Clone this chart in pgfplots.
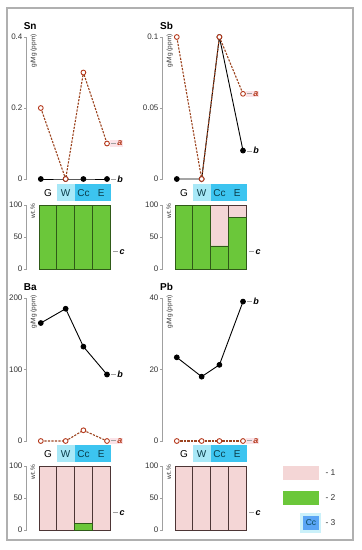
\documentclass[border=0pt]{standalone}
\usepackage{fontspec}
\setmainfont{Liberation Sans}
\usepackage{pgfplots}
\pgfplotsset{compat=1.18}
\definecolor{pinkf}{HTML}{F4D6D6}
\definecolor{pinkb}{HTML}{4D3535}
\definecolor{greenf}{HTML}{6BC73A}
\definecolor{greenb}{HTML}{2F5A18}
\definecolor{wcyan}{HTML}{A8E8F7}
\definecolor{ccyan}{HTML}{3CC4F0}
\definecolor{labtxt}{HTML}{0B3D4A}
\definecolor{redline}{HTML}{9C4420}
\definecolor{redmark}{HTML}{B5391C}
\definecolor{axgray}{HTML}{A0A0A0}
\definecolor{framec}{HTML}{B0B0B0}
\definecolor{tickc}{HTML}{333333}
\definecolor{apink}{HTML}{FBE3E8}
\definecolor{legblue}{HTML}{5AA5F5}
\definecolor{legtxt}{HTML}{064A5C}

\pgfplotsset{
  panel/.style={scale only axis, axis y line=left, axis x line=none,
    axis line style={draw=axgray, line width=0.7pt, -},
    tick align=outside, major tick length=2.5pt,
    ytick style={draw=axgray, line width=0.7pt},
    xmin=-1.2, xmax=3.8, width=88.75pt, clip=false,
    scaled y ticks=false,
    yticklabel style={font=\fontsize{8}{8}\selectfont, text=tickc, inner xsep=1.5pt},
    /pgf/number format/assume math mode=true, anchor=south west},
  barpanel/.style={panel, height=64pt, ymin=0, ymax=100, ytick={0,50,100}, yticklabels={0,50,100}},
  serb/.style={black, line width=0.9pt, mark=*, mark size=2.4pt, mark options={solid, fill=black}},
  sera/.style={redline, line width=1.1pt, dash pattern=on 2.2pt off 1.3pt, mark=*, mark size=2.4pt,
    mark options={solid, draw=redmark, fill=white, line width=0.9pt}},
  gbar/.style={ybar, bar shift=0pt, bar width=1, fill=greenf, draw=greenb, line width=0.8pt},
  pbar/.style={ybar, bar shift=0pt, bar width=1, fill=pinkf, draw=pinkb, line width=0.8pt},
}
\tikzset{
  laba/.style={anchor=west, xshift=2.8pt, inner sep=0.8pt, fill=apink, text=redmark, font=\fontsize{9}{9}\selectfont\bfseries\itshape},
  labb/.style={anchor=west, xshift=2.8pt, inner sep=0.8pt, text=black, font=\fontsize{9}{9}\selectfont\bfseries\itshape},
  ptitle/.style={anchor=base, font=\fontsize{10}{10}\selectfont\bfseries},
  ylab/.style={rotate=90, anchor=north east, inner sep=0pt, font=\fontsize{6.5}{6.5}\selectfont, text=tickc},
  catlab/.style={font=\fontsize{10}{10}\selectfont, text=labtxt},
}
\newcommand{\dsh}{\textcolor{axgray}{\rule[2.7pt]{5pt}{0.6pt}}\,}

\newcommand{\catrow}{%
  \fill[wcyan] ([yshift=4pt]axis cs:0.5,100) rectangle ([yshift=21pt]axis cs:1.5,100);
  \fill[ccyan] ([yshift=4pt]axis cs:1.5,100) rectangle ([yshift=21pt,xshift=1pt]axis cs:3.5,100);
  \node[catlab, text=black] at ([yshift=12pt]axis cs:0,100) {G};
  \node[catlab] at ([yshift=12pt]axis cs:1,100) {W};
  \node[catlab] at ([yshift=12pt]axis cs:2,100) {Cc};
  \node[catlab] at ([yshift=12pt]axis cs:3,100) {E};
  \node[anchor=west, xshift=2.5pt, inner sep=0.5pt, font=\fontsize{9}{9}\selectfont\bfseries\itshape] at (axis cs:3.5,26.5) {\dsh c};
  \node[ylab] at ([xshift=3.8pt,yshift=1pt]rel axis cs:0,1) {wt.\%};
}

\begin{document}
\begin{tikzpicture}
\draw[framec, line width=1.3pt] (7pt,-8pt) rectangle (353pt,-540pt);

% ---------- Sn ----------
\begin{axis}[panel, at={(26.6pt,-179pt)}, height=142pt, ymin=0, ymax=0.4,
  ytick={0,0.2,0.4}, yticklabels={0,0.2,0.4}]
\addplot[serb] coordinates {(-0.4,0) (1,0) (2,0) (3.33,0)};
\addplot[sera] coordinates {(-0.4,0.2) (1,0) (2,0.3) (3.33,0.1)};
\node[laba] at (axis cs:3.33,0.1) {\dsh a};
\node[labb] at (axis cs:3.33,0) {\dsh b};
\node[ptitle] at ([xshift=3.6pt,yshift=8pt]rel axis cs:0,1) {Sn};
\node[ylab] at ([xshift=3.8pt,yshift=3pt]rel axis cs:0,1) {g/Mg (ppm)};
\end{axis}
\begin{axis}[barpanel, at={(26.6pt,-269pt)}]
\addplot[gbar] coordinates {(0,100) (1,100) (2,100) (3,100)};
\catrow
\end{axis}

% ---------- Sb ----------
\begin{axis}[panel, at={(162.6pt,-179pt)}, height=142pt, ymin=0, ymax=0.1,
  ytick={0,0.05,0.1}, yticklabels={0,0.05,0.1}]
\addplot[serb] coordinates {(-0.4,0) (1,0) (2,0.1) (3.33,0.02)};
\addplot[sera] coordinates {(-0.4,0.1) (1,0) (2,0.1) (3.33,0.06)};
\node[laba] at (axis cs:3.33,0.06) {\dsh a};
\node[labb] at (axis cs:3.33,0.02) {\dsh b};
\node[ptitle] at ([xshift=4pt,yshift=8pt]rel axis cs:0,1) {Sb};
\node[ylab] at ([xshift=3.8pt,yshift=3pt]rel axis cs:0,1) {g/Mg (ppm)};
\end{axis}
\begin{axis}[barpanel, at={(162.6pt,-269pt)}]
\addplot[pbar] coordinates {(2,100) (3,100)};
\addplot[gbar] coordinates {(0,100) (1,100) (2,36) (3,80)};
\catrow
\end{axis}

% ---------- Ba ----------
\begin{axis}[panel, at={(26.6pt,-441pt)}, height=143pt, ymin=0, ymax=200,
  ytick={0,100,200}, yticklabels={0,100,200}]
\addplot[serb] coordinates {(-0.4,165) (1,185) (2,132) (3.33,93)};
\addplot[sera] coordinates {(-0.4,0) (1,0) (2,15) (3.33,0)};
\node[laba] at (axis cs:3.33,0) {\dsh a};
\node[labb] at (axis cs:3.33,93) {\dsh b};
\node[ptitle] at ([xshift=3.6pt,yshift=8pt]rel axis cs:0,1) {Ba};
\node[ylab] at ([xshift=3.8pt,yshift=3pt]rel axis cs:0,1) {g/Mg (ppm)};
\end{axis}
\begin{axis}[barpanel, at={(26.6pt,-530pt)}]
\addplot[pbar] coordinates {(0,100) (1,100) (2,100) (3,100)};
\addplot[gbar] coordinates {(2,10)};
\catrow
\end{axis}

% ---------- Pb ----------
\begin{axis}[panel, at={(162.6pt,-441pt)}, height=143pt, ymin=0, ymax=40,
  ytick={0,20,40}, yticklabels={0,20,40}]
\addplot[serb] coordinates {(-0.4,23.4) (1,18) (2,21.3) (3.33,39)};
\addplot[sera] coordinates {(-0.4,0) (1,0) (2,0) (3.33,0)};
\node[laba] at (axis cs:3.33,0) {\dsh a};
\node[labb] at (axis cs:3.33,39) {\dsh b};
\node[ptitle] at ([xshift=4pt,yshift=8pt]rel axis cs:0,1) {Pb};
\node[ylab] at ([xshift=3.8pt,yshift=3pt]rel axis cs:0,1) {g/Mg (ppm)};
\end{axis}
\begin{axis}[barpanel, at={(162.6pt,-530pt)}]
\addplot[pbar] coordinates {(0,100) (1,100) (2,100) (3,100)};
\catrow
\end{axis}

% ---------- legend ----------
\fill[pinkf] (283pt,-466pt) rectangle (319pt,-480pt);
\node[anchor=west, font=\fontsize{8.5}{8.5}\selectfont, text=tickc] at (322pt,-473pt) {- 1};
\fill[greenf] (283pt,-491pt) rectangle (319pt,-505pt);
\node[anchor=west, font=\fontsize{8.5}{8.5}\selectfont, text=tickc] at (322pt,-498pt) {- 2};
\fill[wcyan!60] (300pt,-513pt) rectangle (321pt,-533pt);
\fill[legblue] (303pt,-516pt) rectangle (319pt,-530pt);
\node[inner sep=0pt, font=\fontsize{8.5}{8.5}\selectfont, text=legtxt] at (311pt,-523pt) {Cc};
\node[anchor=west, font=\fontsize{8.5}{8.5}\selectfont, text=tickc] at (322pt,-523pt) {- 3};

\pgfresetboundingbox
\useasboundingbox (0pt,0pt) rectangle (362pt,-550pt);
\end{tikzpicture}
\end{document}
